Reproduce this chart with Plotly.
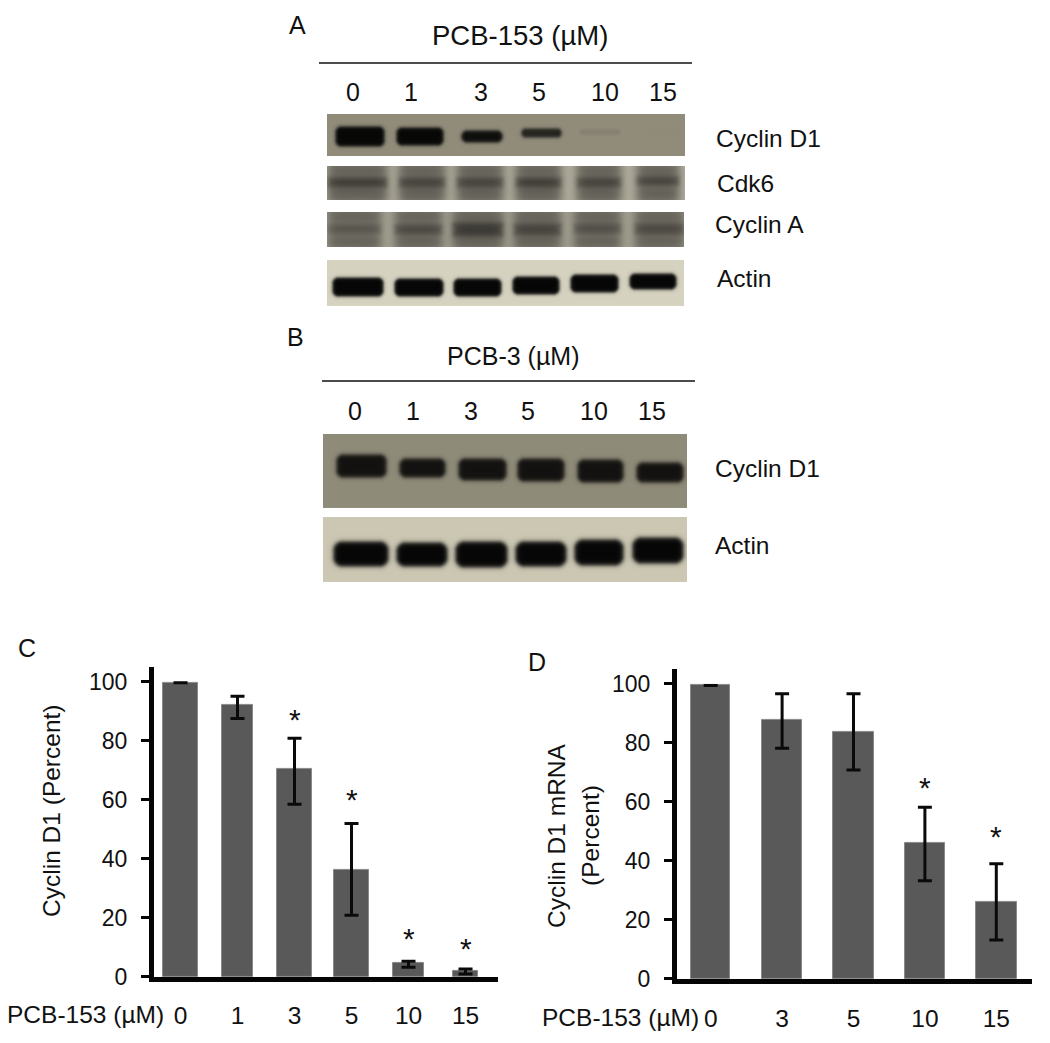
import numpy as np
import plotly.graph_objects as go

# ---------- bar chart data ----------
c_labels = ["0", "1", "3", "5", "10", "15"]
c_values = [99.7, 92.1, 70.5, 36.3, 4.7, 2.1]
c_err_up = [0.0, 3.0, 10.4, 15.7, 0.6, 0.6]
c_err_down = [0.0, 4.5, 12.0, 15.4, 1.4, 1.1]
c_star_at = [2, 3, 4, 5]
c_star_y = [88, 61, 14, 10.5]

d_labels = ["0", "3", "5", "10", "15"]
d_values = [99.5, 87.7, 83.6, 46.2, 26.1]
d_err_up = [0.0, 9.0, 13.1, 12.0, 12.9]
d_err_down = [0.0, 9.5, 12.8, 12.9, 12.9]
d_star_at = [3, 4]
d_star_y = [65.8, 49.2]

# ---------- blot data: band darkness per lane ----------
lanes_a = ["0", "1", "3", "5", "10", "15"]
lanes_b = ["0", "1", "3", "5", "10", "15"]
a_cyclin_d1 = [1.0, 1.0, 0.95, 0.8, 0.1, 0.01]
a_cdk6 = [0.36, 0.32, 0.32, 0.36, 0.32, 0.32]
a_cyclin_a = [0.2, 0.3, 0.42, 0.34, 0.25, 0.3]
a_actin = [1.0, 1.0, 1.0, 1.0, 1.0, 1.0]
b_cyclin_d1 = [0.95, 0.95, 0.95, 0.95, 0.95, 0.95]
b_actin = [1.0, 1.0, 1.0, 1.0, 1.0, 1.0]

# ---------- page geometry (pixels) ----------
W, H = 1050, 1043
FONT = "Liberation Sans"
INK = "#111111"
VSCALE = 1.0125
def X(p): return p / W
def Y(p): return 1 - p * VSCALE / H

blots = [
    dict(box=(327, 685, 114, 156), bg="#918c7a", ink="#070706", strength=a_cyclin_d1, smear=None, radius=6,
         left=[335, 396, 461, 521, 580, 642], right=[384, 443, 502, 561, 619, 679],
         top=[126, 127, 130, 128, 129, 130], bot=[146, 145, 142, 137, 134, 134], soft=1.0, extra=[]),
    dict(box=(327, 685, 166, 200), bg="#b5b2a2", ink="#2c2a26", strength=a_cdk6, smear=0.5, radius=3,
         left=[327, 398, 456, 515, 576, 636], right=[387, 445, 503, 561, 621, 679],
         top=[177, 177, 177, 177, 177, 176], bot=[187, 187, 187, 187, 187, 185], soft=1.8,
         extra=[(189, 197, 0.1), (167, 173, 0.08)]),
    dict(box=(327, 684, 212, 247), bg="#aaa798", ink="#2c2a26", strength=a_cyclin_a, smear=0.46, radius=3,
         left=[327, 394, 452, 513, 573, 634], right=[381, 442, 503, 561, 621, 684],
         top=[224, 224, 222, 223, 223, 223], bot=[233, 234, 236, 235, 233, 234], soft=1.8,
         extra=[(238, 244, 0.1), (213, 219, 0.08)]),
    dict(box=(327, 684, 260, 306), bg="#d5d2c0", ink="#060606", strength=a_actin, smear=None, radius=6,
         left=[332, 394, 453, 512, 570, 629], right=[383, 443, 501, 559, 618, 676],
         top=[277, 278, 278, 276, 274, 273], bot=[296, 296, 296, 294, 292, 289], soft=0.9, extra=[]),
    dict(box=(323, 687, 434, 508), bg="#8f8b79", ink="#0c0b0a", strength=b_cyclin_d1, smear=None, radius=7,
         left=[336, 399, 458, 517, 577, 636], right=[386, 445, 506, 564, 623, 683],
         top=[454, 458, 458, 458, 459, 462], bot=[477, 477, 480, 481, 482, 482], soft=1.2, extra=[]),
    dict(box=(323, 687, 517, 582), bg="#cbc7b3", ink="#060606", strength=b_actin, smear=None, radius=9,
         left=[333, 396, 455, 515, 574, 632], right=[388, 447, 507, 566, 623, 683],
         top=[541, 542, 541, 541, 539, 537], bot=[566, 566, 567, 566, 565, 563], soft=1.3, extra=[]),
]

def edge(t, s):
    return 1 / (1 + np.exp(-t / s))

def blot_image(b):
    x0, x1, y0, y1 = b["box"]
    xs = np.arange(x0, x1 + 1)
    ys = np.arange(y0, y1 + 1)
    gx, gy = np.meshgrid(xs, ys)
    z = np.zeros_like(gx, dtype=float)
    r = b["radius"]
    for i, s in enumerate(b["strength"]):
        cx = (b["left"][i] + b["right"][i]) / 2
        hx = (b["right"][i] - b["left"][i]) / 2
        cy = (b["top"][i] + b["bot"][i]) / 2
        hy = (b["bot"][i] - b["top"][i]) / 2
        rr = min(r, hx, hy)
        qx = np.abs(gx - cx) - hx + rr
        qy = np.abs(gy - cy) - hy + rr
        dist = np.hypot(np.maximum(qx, 0), np.maximum(qy, 0)) + np.minimum(np.maximum(qx, qy), 0) - rr
        lane = s * edge(-dist, b["soft"])
        if b["smear"]:
            sx = edge(gx - b["left"][i], 3) * edge(b["right"][i] - gx, 3)
            lane = lane + b["smear"] * sx
            for (e0, e1, amount) in b["extra"]:
                lane = lane + amount * sx * edge(gy - e0, 1.5) * edge(e1 - gy, 1.5)
        z = z + lane
    return xs, ys, np.clip(z, 0, 1)

fig = go.Figure()
layout = {}
annotations = []
shapes = []

# ---------- blots ----------
for n, b in enumerate(blots):
    idx = n + 3
    xs, ys, z = blot_image(b)
    fig.add_trace(go.Heatmap(
        x=xs, y=ys, z=z, xaxis=f"x{idx}", yaxis=f"y{idx}", zmin=0, zmax=1, zsmooth="best",
        showscale=False, hoverinfo="skip",
        colorscale=[[0, b["bg"]], [1, b["ink"]]]))
    x0, x1, y0, y1 = b["box"]
    layout[f"xaxis{idx}"] = dict(domain=[X(x0), X(x1)], range=[x0, x1], visible=False,
                                 anchor=f"y{idx}", fixedrange=True)
    layout[f"yaxis{idx}"] = dict(domain=[Y(y1), Y(y0)], range=[y1, y0], visible=False,
                                 anchor=f"x{idx}", fixedrange=True)

def note(text, x, y, size=24.5, xanchor="center", angle=0):
    annotations.append(dict(text=text, x=X(x), y=Y(y), xref="paper", yref="paper",
                            showarrow=False, xanchor=xanchor, yanchor="middle", textangle=angle,
                            font=dict(family=FONT, size=size, color=INK)))

note("A", 297, 25, 25)
note("B", 295, 337, 25)
note("C", 27, 648, 25)
note("D", 537, 662, 25)
note("PCB-153 (µM)", 520, 36, 27.5)
note("PCB-3 (µM)", 513, 356, 25)

for lab, px in zip(lanes_a, [353, 411, 481, 539, 605, 663]):
    note(lab, px, 92, 25)
for lab, px in zip(lanes_b, [355, 413, 471, 528, 594, 652]):
    note(lab, px, 411, 25)

note("Cyclin D1", 714, 139, 24.5, "left")
note("Cdk6", 715, 184, 24.5, "left")
note("Cyclin A", 713, 225, 24.5, "left")
note("Actin", 715, 279, 24.5, "left")
note("Cyclin D1", 713, 469, 24.5, "left")
note("Actin", 713, 546, 24.5, "left")

for x0, x1, y in [(319, 692, 63), (322, 695, 381)]:
    shapes.append(dict(type="line", xref="paper", yref="paper", x0=X(x0), x1=X(x1), y0=Y(y), y1=Y(y),
                       line=dict(color="#111111", width=1.6)))

# ---------- bar charts ----------
def bars(values, up, down, labels, stars_at, stars_y, axis_suffix, widths, cap):
    idx = list(range(len(values)))
    fig.add_trace(go.Bar(
        x=idx, y=values, width=widths, xaxis=f"x{axis_suffix}", yaxis=f"y{axis_suffix}",
        marker=dict(color="#595959", line=dict(color="#8a8a8a", width=1)),
        error_y=dict(type="data", symmetric=False, array=up, arrayminus=down,
                     color="#0a0a0a", thickness=3, width=cap),
        showlegend=False))
    for i, yv in zip(stars_at, stars_y):
        annotations.append(dict(text="*", x=i, y=yv, xref=f"x{axis_suffix}", yref=f"y{axis_suffix}",
                                showarrow=False, yshift=-2.5, font=dict(family=FONT, size=30, color=INK)))

bars(c_values, c_err_up, c_err_down, c_labels, c_star_at, c_star_y, "",
     [0.60, 0.56, 0.61, 0.61, 0.56, 0.44], 7)
bars(d_values, d_err_up, d_err_down, d_labels, d_star_at, d_star_y, "2",
     [0.54, 0.57, 0.57, 0.57, 0.57], 7)

def axes(x_left, x_right, y_top, y_zero, xr, labels, anchor, standoff):
    xa = dict(domain=[X(x_left), X(x_right)], range=xr, showline=True, linewidth=5, linecolor="#050505",
              ticks="", tickmode="array", tickvals=list(range(len(labels))), ticktext=labels,
              tickfont=dict(family=FONT, size=24.5, color=INK), ticklabelstandoff=standoff,
              showgrid=False, zeroline=False, anchor=f"y{anchor}", fixedrange=True)
    ya = dict(domain=[Y(y_zero), Y(y_top)], range=[0, (y_zero - y_top) / 2.95], showline=True, linewidth=5,
              linecolor="#050505", ticks="outside", ticklen=8, tickwidth=3, tickcolor="#050505",
              tickmode="array", tickvals=[0, 20, 40, 60, 80, 100],
              tickfont=dict(family=FONT, size=23, color=INK), ticklabelstandoff=9,
              showgrid=False, zeroline=False, anchor=f"x{anchor}", fixedrange=True)
    return xa, ya

layout["xaxis"], layout["yaxis"] = axes(154, 498, 667, 977, [-0.465, 5.57], c_labels, "", 13)
layout["xaxis2"], layout["yaxis2"] = axes(677, 1032, 669, 979, [-0.472, 4.5], d_labels, "2", 14)

note("PCB-153 (µM)", 85, 1015, 24.5)
note("PCB-153 (µM)", 620, 1018, 24.5)
note("Cyclin D1 (Percent)", 52, 811, 24.5, angle=-90)
note("Cyclin D1 mRNA", 557, 836, 24.5, angle=-90)
note("(Percent)", 591, 836, 24.5, angle=-90)

fig.update_layout(
    width=W, height=H, autosize=False, margin=dict(l=0, r=0, t=0, b=0),
    paper_bgcolor="white", plot_bgcolor="white", showlegend=False, bargap=0,
    annotations=annotations, shapes=shapes, **layout)

fig.write_html("out.html", config={"displayModeBar": False, "responsive": False},
               post_script="document.body.style.margin='0';document.body.style.overflow='hidden';")
